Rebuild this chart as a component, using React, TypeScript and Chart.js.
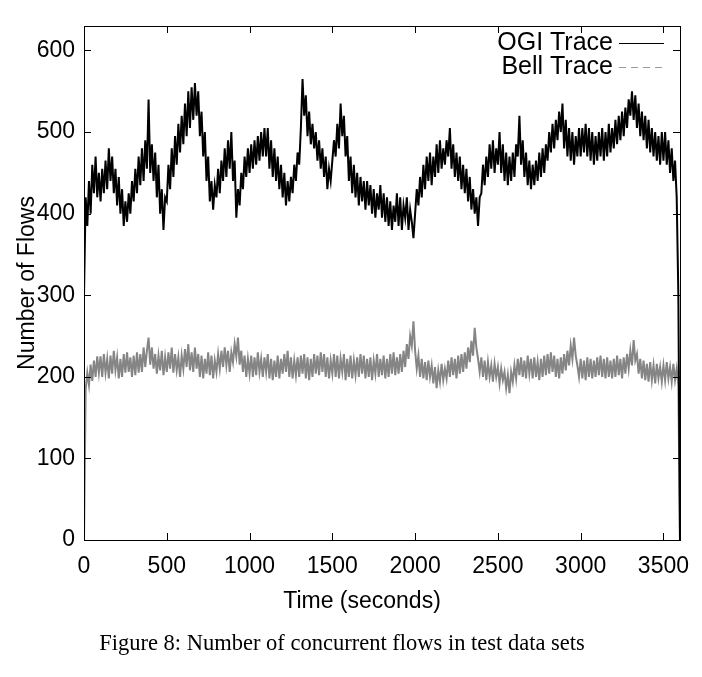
import React, { useEffect, useRef } from "react";
import { Chart, registerables } from "chart.js";

Chart.register(...registerables);

// Sampling interval of the traces (seconds)
const SAMPLE_STEP = 10;

// OGI trace: number of concurrent flows, one value every 10 s from t = 0 to 3600
const ogiTrace: number[] = [
  300, 420, 385, 440, 400, 460, 425, 470, 420, 450,
  415, 455, 425, 465, 430, 480, 440, 470, 425, 455,
  410, 445, 400, 430, 385, 415, 390, 425, 400, 440,
  415, 455, 425, 470, 435, 480, 440, 490, 455, 540,
  450, 485, 440, 475, 420, 460, 400, 430, 380, 420,
  415, 460, 430, 480, 445, 495, 460, 510, 475, 520,
  485, 535, 495, 550, 505, 555, 515, 560, 520, 550,
  495, 525, 470, 500, 440, 470, 415, 440, 405, 435,
  420, 455, 425, 465, 440, 480, 445, 490, 455, 500,
  440, 465, 395, 430, 410, 450, 430, 470, 445, 480,
  450, 485, 455, 490, 460, 495, 465, 500, 470, 505,
  470, 505, 455, 490, 445, 480, 440, 470, 430, 460,
  420, 450, 410, 440, 415, 445, 425, 460, 440, 475,
  460, 505, 565, 520, 545, 495, 525, 485, 510, 480,
  500, 465, 490, 455, 480, 445, 470, 430, 455, 440,
  465, 490, 470, 510, 480, 535, 495, 520, 470, 495,
  440, 470, 425, 460, 420, 450, 410, 445, 415, 440,
  405, 440, 410, 435, 400, 430, 395, 425, 405, 435,
  395, 425, 390, 420, 385, 415, 380, 410, 390, 425,
  385, 420, 380, 410, 395, 420, 380, 405, 390, 370,
  400, 430, 410, 445, 420, 460, 430, 470, 440, 475,
  435, 470, 445, 485, 450, 490, 455, 480, 460, 490,
  470, 505, 455, 485, 445, 475, 440, 470, 430, 460,
  425, 455, 415, 445, 405, 430, 400, 420, 385, 420,
  425, 460, 435, 470, 445, 485, 455, 490, 450, 480,
  460, 500, 450, 485, 440, 475, 435, 470, 440, 475,
  445, 485, 470, 520, 460, 490, 445, 475, 435, 465,
  430, 460, 435, 465, 440, 475, 445, 480, 450, 485,
  465, 500, 475, 510, 480, 515, 490, 525, 500, 535,
  480, 515, 470, 505, 465, 500, 460, 495, 470, 505,
  470, 505, 475, 510, 470, 505, 465, 500, 460, 495,
  465, 500, 470, 505, 465, 500, 470, 510, 475, 505,
  480, 515, 485, 520, 490, 525, 495, 530, 505, 540,
  520, 550, 515, 545, 505, 535, 495, 525, 490, 520,
  480, 515, 475, 505, 470, 500, 465, 495, 460, 500,
  465, 500, 460, 490, 450, 480, 440, 465, 420, 300,
  0,
];

// Bell trace: number of concurrent flows, one value every 10 s from t = 0 to 3600
const bellTrace: number[] = [
  0, 185, 205, 190, 215, 195, 220, 200, 225, 205,
  225, 200, 228, 205, 222, 198, 226, 204, 232, 208,
  224, 198, 222, 200, 228, 205, 230, 206, 224, 200,
  226, 202, 230, 205, 228, 206, 236, 212, 232, 248,
  215, 236, 210, 228, 204, 226, 208, 232, 202, 224,
  206, 230, 210, 236, 205, 228, 208, 224, 200, 226,
  210, 234, 212, 240, 208, 230, 206, 236, 210, 228,
  200, 226, 198, 222, 204, 230, 202, 226, 198, 220,
  206, 228, 210, 232, 212, 236, 214, 232, 206, 230,
  218, 240, 225, 248, 215, 232, 206, 226, 200, 222,
  204, 226, 200, 224, 202, 230, 206, 222, 200, 224,
  206, 228, 198, 222, 196, 220, 200, 226, 198, 222,
  204, 228, 206, 232, 200, 224, 198, 220, 202, 224,
  200, 226, 204, 228, 198, 224, 196, 222, 200, 228,
  204, 226, 202, 230, 206, 228, 200, 224, 198, 220,
  204, 228, 200, 226, 198, 222, 206, 228, 196, 222,
  200, 226, 198, 220, 202, 224, 200, 228, 204, 226,
  198, 222, 200, 224, 196, 220, 204, 228, 200, 222,
  202, 226, 198, 222, 200, 228, 204, 230, 202, 224,
  204, 228, 206, 232, 212, 240, 222, 250, 238, 268,
  232, 210, 226, 200, 222, 198, 218, 196, 220, 200,
  214, 192, 212, 186, 208, 194, 216, 196, 210, 198,
  220, 200, 224, 202, 222, 198, 226, 204, 228, 206,
  230, 210, 236, 218, 244, 226, 260, 236, 222, 206,
  224, 200, 220, 196, 218, 200, 214, 194, 216, 200,
  212, 192, 210, 196, 206, 186, 202, 180, 206, 194,
  214, 198, 222, 202, 224, 200, 220, 198, 226, 204,
  222, 198, 224, 200, 218, 196, 222, 200, 226, 202,
  228, 204, 230, 206, 226, 200, 222, 198, 224, 204,
  228, 208, 232, 214, 238, 222, 248, 226, 214, 200,
  222, 198, 220, 196, 224, 200, 222, 198, 220, 200,
  224, 202, 226, 200, 222, 198, 224, 200, 220, 198,
  222, 200, 226, 202, 222, 198, 224, 204, 228, 210,
  232, 214, 245, 220, 228, 204, 222, 198, 220, 196,
  216, 194, 218, 196, 214, 192, 216, 198, 212, 194,
  214, 196, 218, 198, 212, 194, 216, 196, 210, 190,
  0,
];

const seriesLabels = ["OGI Trace", "Bell Trace"];
const xTickValues = [0, 500, 1000, 1500, 2000, 2500, 3000, 3500];
const yTickValues = [0, 100, 200, 300, 400, 500, 600];
const X_MAX = 3600;
const Y_MAX = 630;
const X_TITLE = "Time (seconds)";
const Y_TITLE = "Number of Flows";
const CAPTION = "Figure 8: Number of concurrent flows in test data sets";

const SANS = "'Liberation Sans', Arial, sans-serif";
const SERIF = "'Liberation Serif', 'Times New Roman', serif";
const FONT_SIZE = 23;
const LEGEND_FONT_SIZE = 25;

export default function App() {
  const canvasRef = useRef<HTMLCanvasElement | null>(null);

  useEffect(() => {
    const canvas = canvasRef.current;
    if (!canvas) return;

    const framePlugin = {
      id: "gnuplotFrame",
      afterDraw(chart: any) {
        const { ctx, chartArea } = chart;
        const { left, right, top, bottom } = chartArea;
        const xs = chart.scales.x;
        const ys = chart.scales.y;
        const tick = 7;
        ctx.save();
        ctx.strokeStyle = "#000";
        ctx.lineWidth = 1;
        // box
        ctx.strokeRect(Math.round(left) + 0.5, Math.round(top) + 0.5, Math.round(right - left), Math.round(bottom - top));
        // inward ticks on all four sides
        ctx.beginPath();
        xTickValues.forEach((v) => {
          const px = Math.round(xs.getPixelForValue(v)) + 0.5;
          ctx.moveTo(px, bottom);
          ctx.lineTo(px, bottom - tick);
          ctx.moveTo(px, top);
          ctx.lineTo(px, top + tick);
        });
        yTickValues.forEach((v) => {
          const py = Math.round(ys.getPixelForValue(v)) + 0.5;
          ctx.moveTo(left, py);
          ctx.lineTo(left + tick, py);
          ctx.moveTo(right, py);
          ctx.lineTo(right - tick, py);
        });
        ctx.stroke();

        // legend (top right, inside)
        ctx.font = `${LEGEND_FONT_SIZE}px ${SANS}`;
        ctx.fillStyle = "#000";
        ctx.textAlign = "right";
        ctx.textBaseline = "middle";
        const textRight = right - 67;
        const lineX0 = right - 61;
        const lineX1 = right - 16;
        const rows = [top + 17, top + 41];
        ctx.fillText(seriesLabels[0], textRight, rows[0]);
        ctx.fillText(seriesLabels[1], textRight, rows[1]);
        ctx.beginPath();
        ctx.strokeStyle = "#000";
        ctx.lineWidth = 1.2;
        ctx.moveTo(lineX0, rows[0] + 0.5);
        ctx.lineTo(lineX1, rows[0] + 0.5);
        ctx.stroke();
        ctx.beginPath();
        ctx.strokeStyle = "#999";
        ctx.setLineDash([7, 5]);
        ctx.moveTo(lineX0, rows[1] + 0.5);
        ctx.lineTo(lineX1, rows[1] + 0.5);
        ctx.stroke();
        ctx.setLineDash([]);

        // x axis title
        ctx.font = `${FONT_SIZE}px ${SANS}`;
        ctx.textAlign = "center";
        ctx.textBaseline = "middle";
        ctx.fillText(X_TITLE, 362, bottom + 62);

        // y axis title (overlapping tick labels, gnuplot style)
        ctx.translate(left - 56, (top + bottom) / 2);
        ctx.rotate(-Math.PI / 2);
        ctx.fillText(Y_TITLE, 0, 0);
        ctx.restore();
      },
    };

    const chart = new Chart(canvas, {
      type: "line",
      data: {
        datasets: [
          {
            label: seriesLabels[0],
            data: ogiTrace.map((v, i) => ({ x: i * SAMPLE_STEP, y: v })),
            borderColor: "#000000",
            borderWidth: 2,
            pointRadius: 0,
            tension: 0,
            fill: false,
          },
          {
            label: seriesLabels[1],
            data: bellTrace.map((v, i) => ({ x: i * SAMPLE_STEP, y: v })),
            borderColor: "#858585",
            borderWidth: 2,
            pointRadius: 0,
            tension: 0,
            fill: false,
          },
        ],
      },
      options: {
        responsive: false,
        animation: false,
        devicePixelRatio: 1,
        layout: { padding: { left: 0, top: 26, right: 22, bottom: 63 } },
        plugins: { legend: { display: false }, tooltip: { enabled: false } },
        scales: {
          x: {
            type: "linear",
            min: 0,
            max: X_MAX,
            afterBuildTicks: (s: any) => {
              s.ticks = xTickValues.map((v) => ({ value: v }));
            },
            afterFit: (s: any) => {
              s.height = 74;
              s.paddingLeft = 0;
              s.paddingRight = 0;
            },
            grid: { display: false, drawTicks: false },
            border: { display: false },
            ticks: {
              padding: 13,
              color: "#000",
              font: { family: SANS, size: FONT_SIZE },
              maxRotation: 0,
              autoSkip: false,
              callback: (v: any) => String(v),
            },
            title: { display: false },
          },
          y: {
            type: "linear",
            min: 0,
            max: Y_MAX,
            afterBuildTicks: (s: any) => {
              s.ticks = yTickValues.map((v) => ({ value: v }));
            },
            afterFit: (s: any) => {
              s.width = 84;
              s.paddingTop = 0;
              s.paddingBottom = 0;
            },
            grid: { display: false, drawTicks: false },
            border: { display: false },
            ticks: {
              padding: 9,
              color: "#000",
              font: { family: SANS, size: FONT_SIZE },
              callback: (v: any) => String(v),
            },
          },
        },
      },
      plugins: [framePlugin],
    });

    return () => chart.destroy();
  }, []);

  return (
    <div style={{ position: "relative", width: 702, height: 677, margin: -8, background: "#fff", overflow: "hidden" }}>
      <div
        style={{
          position: "absolute",
          left: 3,
          top: 3,
          width: 699,
          height: 674,
          borderTop: "2px solid #c4c4c4",
          borderLeft: "2px solid #c4c4c4",
          boxSizing: "border-box",
        }}
      />
      <canvas ref={canvasRef} width={702} height={677} style={{ position: "absolute", left: 0, top: 0 }} />
      <div
        style={{
          position: "absolute",
          left: 0,
          top: 629,
          width: 684,
          textAlign: "center",
          fontFamily: SERIF,
          fontSize: 22.5,
          color: "#000",
          lineHeight: "28px",
        }}
      >
        {CAPTION}
      </div>
    </div>
  );
}
